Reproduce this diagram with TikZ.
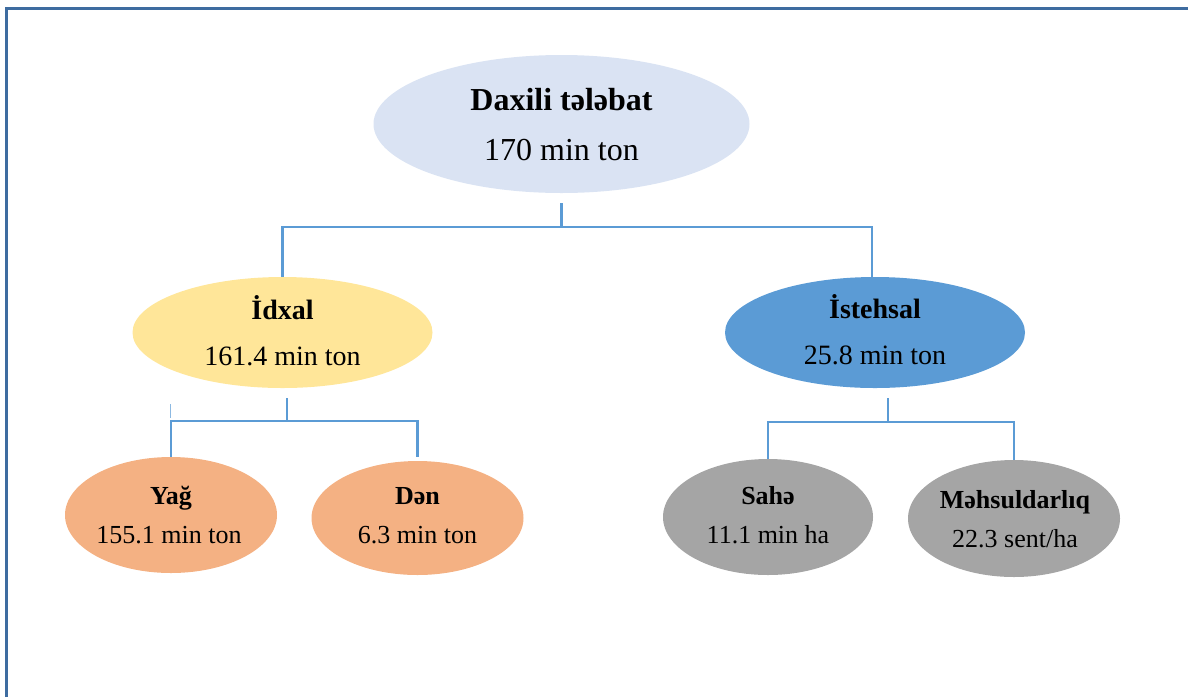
\documentclass[tikz,border=0pt]{standalone}
\usepackage{fontspec}
\setmainfont{Liberation Serif}
\usetikzlibrary{calc,shapes.geometric}
\definecolor{topfill}{HTML}{DAE3F3}
\definecolor{yelfill}{HTML}{FFE699}
\definecolor{bluefill}{HTML}{5B9BD5}
\definecolor{orfill}{HTML}{F4B183}
\definecolor{grayfill}{HTML}{A5A5A5}
\definecolor{lineblue}{HTML}{5B9BD5}
\definecolor{framecol}{RGB}{62,108,160}
\begin{document}
\begin{tikzpicture}[x=1pt,y=-1pt,
  ell/.style={ellipse, inner sep=0pt, draw=none},
  conn/.style={draw=lineblue, line width=2.3pt},
  frameline/.style={draw=framecol, line width=3.4pt},
  lbl/.style={anchor=base, inner sep=0pt, text=black},
  ftop/.style={font=\fontsize{32}{38}\selectfont},
  fmid/.style={font=\fontsize{28}{34}\selectfont},
  fbot/.style={font=\fontsize{26}{31}\selectfont}]
\useasboundingbox (0,0) rectangle (1188,697);
\draw[frameline] (6.5,697) -- (6.5,8.5) -- (1188,8.5);

% ellipses
\node[ell, fill=topfill, minimum width=376pt, minimum height=138pt] (top) at (561.5,124) {};
\node[ell, fill=yelfill, minimum width=300pt, minimum height=111pt] (idx) at (282.5,332.5) {};
\node[ell, fill=bluefill, minimum width=300pt, minimum height=111pt] (ist) at (875,332.5) {};
\node[ell, fill=orfill, minimum width=212pt, minimum height=116pt] (yag) at (171,515) {};
\node[ell, fill=orfill, minimum width=212pt, minimum height=114pt] (den) at (417.5,518) {};
\node[ell, fill=grayfill, minimum width=210pt, minimum height=116pt] (sah) at (768,517) {};
\node[ell, fill=grayfill, minimum width=212pt, minimum height=117pt] (mah) at (1014,518.5) {};

% texts
\node[lbl, ftop] (top-t1) at (561.5,110.5) {\textbf{Daxili tələbat}};
\node[lbl, ftop] (top-t2) at (561.5,160.5) {170 min ton};
\node[lbl, fmid] (idx-t1) at (282.5,319) {\textbf{İdxal}};
\node[lbl, fmid] (idx-t2) at (282.5,365) {161.4 min ton};
\node[lbl, fmid] (ist-t1) at (875,318) {\textbf{İstehsal}};
\node[lbl, fmid] (ist-t2) at (875,364) {25.8 min ton};
\node[lbl, fbot] (yag-t1) at (171,504) {\textbf{Yağ}};
\node[lbl, fbot] (yag-t2) at (169,543) {155.1 min ton};
\node[lbl, fbot] (den-t1) at (417.5,504) {\textbf{Dən}};
\node[lbl, fbot] (den-t2) at (417.5,543) {6.3 min ton};
\node[lbl, fbot] (sah-t1) at (768,504) {\textbf{Sahə}};
\node[lbl, fbot] (sah-t2) at (768,543) {11.1 min ha};
\node[lbl, fbot] (mah-t1) at (1015,508) {\textbf{Məhsuldarlıq}};
\node[lbl, fbot] (mah-t2) at (1015,547) {22.3 sent/ha};

% connectors
\coordinate (j0) at ($(top.south)+(0,10)$);
\coordinate (j1) at ($(j0)+(0,24)$);
\draw[conn] (j0) -- (j1);
\draw[conn] (j1) -| (idx.north);
\draw[conn] (j1) -| ($(ist.north)+(-3,0)$);

\coordinate (k0) at ($(idx.south)+(4.5,10)$);
\coordinate (k1) at ($(k0)+(0,23)$);
\draw[conn] (k0) -- (k1);
\draw[conn] (k1) -| (yag.north);
\draw[conn] (k1) -| ($(den.north)+(0,-4)$);

\coordinate (m0) at ($(ist.south)+(13,10)$);
\coordinate (m1) at ($(m0)+(0,24)$);
\draw[conn] (m0) -- (m1);
\draw[conn] (m1) -| (sah.north);
\draw[conn] (m1) -| (mah.north);

\coordinate (s0) at (170,404);
\coordinate (s1) at (170,418);
\draw[draw=lineblue!70, line width=0.7pt] (s0) -- (s1);
\end{tikzpicture}
\end{document}
